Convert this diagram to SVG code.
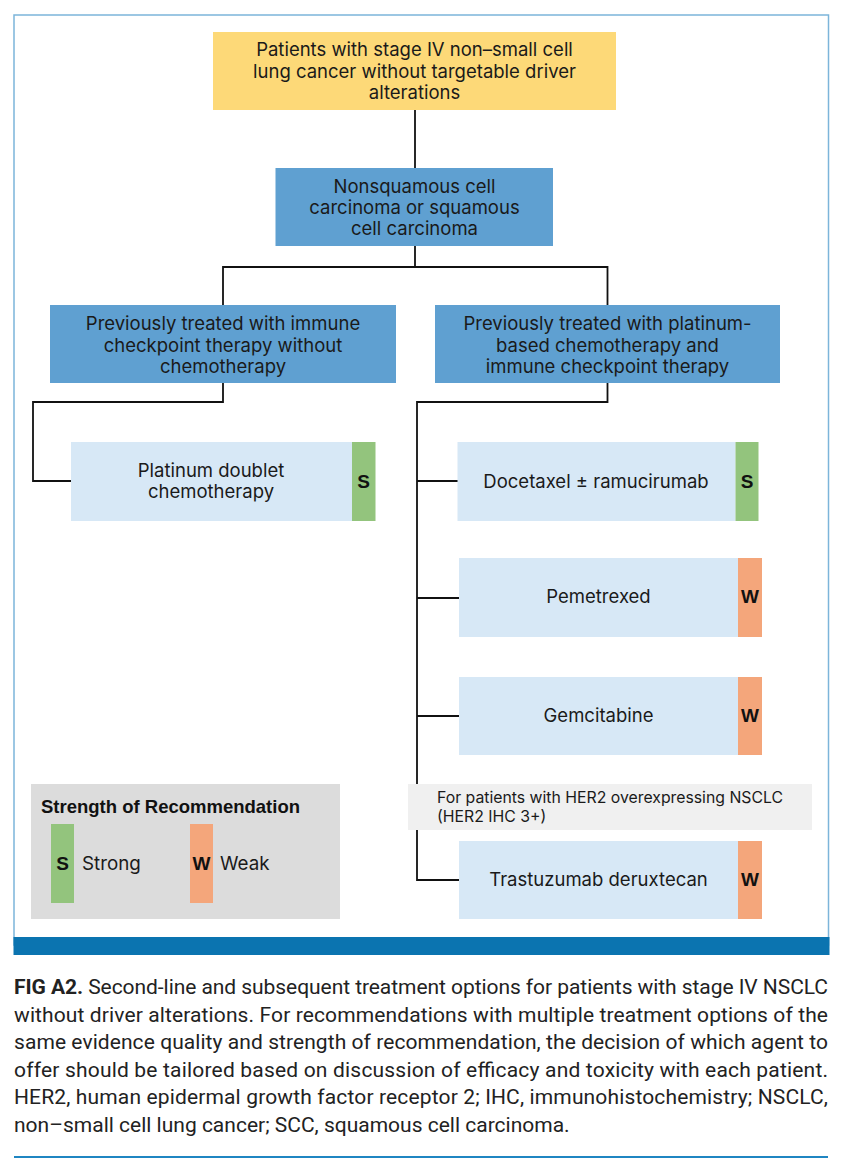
<svg xmlns="http://www.w3.org/2000/svg" width="852" height="1165" viewBox="0 0 852 1165">
<style>
.t{font-family:Inter,"Liberation Sans",Arial,sans-serif;font-size:18.5px;fill:#1a1a1a;text-anchor:middle}
.n{font-family:Inter,"Liberation Sans",Arial,sans-serif;font-size:15.8px;fill:#1a1a1a}
.b{font-family:"Liberation Sans",Arial,sans-serif;font-weight:bold;font-size:19px;fill:#111;text-anchor:middle}
.c{font-family:Roboto,"Liberation Sans",sans-serif;font-size:21px;fill:#222}
.yel{fill:#FDD978}
.blu{fill:#5FA0D1}
.lb{fill:#D7E8F6}
.grn{fill:#93C47D}
.org{fill:#F4A67B}
.conn{fill:none;stroke:#111;stroke-width:1.8}
</style>
<rect x="0" y="0" width="852" height="1165" fill="#fff"/>
<rect x="14" y="15" width="814.5" height="930" fill="#fff" stroke="#7CB5DA" stroke-width="1.5"/>
<rect x="13.5" y="937" width="816" height="18" fill="#0B74B0"/>

<g id="connectors">
<path class="conn" d="M415 110V168"/>
<path class="conn" d="M415 246V267M223 305V267H607.5V305"/>
<path class="conn" d="M223 383V402H33V481H71"/>
<path class="conn" d="M607.5 383V402H417V880H459"/>
<path class="conn" d="M417 481H458M417 598H459M417 716H459"/>
</g>

<g id="n1"><rect class="yel" x="213" y="32" width="403" height="78"/>
<text class="t" x="414.5" y="56">Patients with stage IV non–small cell</text>
<text class="t" x="414.5" y="77.5">lung cancer without targetable driver</text>
<text class="t" x="414.5" y="99">alterations</text></g>

<g id="n2"><rect class="blu" x="275.5" y="168" width="277.5" height="78"/>
<text class="t" x="414.5" y="193">Nonsquamous cell</text>
<text class="t" x="414.5" y="214">carcinoma or squamous</text>
<text class="t" x="414.5" y="235">cell carcinoma</text></g>

<g id="n3"><rect class="blu" x="50" y="305" width="346" height="78"/>
<text class="t" x="223" y="330">Previously treated with immune</text>
<text class="t" x="223" y="352">checkpoint therapy without</text>
<text class="t" x="223" y="373">chemotherapy</text></g>

<g id="n4"><rect class="blu" x="435" y="305" width="345" height="78"/>
<text class="t" x="607.5" y="330">Previously treated with platinum-</text>
<text class="t" x="607.5" y="352">based chemotherapy and</text>
<text class="t" x="607.5" y="373">immune checkpoint therapy</text></g>

<g id="n5"><rect class="lb" x="71" y="442" width="281" height="79"/>
<rect class="grn" x="352" y="442" width="23.5" height="79"/>
<text class="t" x="211" y="477">Platinum doublet</text>
<text class="t" x="211" y="498">chemotherapy</text>
<text class="b" x="363.5" y="488">S</text></g>

<g id="n6"><rect class="lb" x="457.5" y="442" width="278" height="79"/>
<rect class="grn" x="735.5" y="442" width="23" height="79"/>
<text class="t" x="596" y="488">Docetaxel ± ramucirumab</text>
<text class="b" x="747" y="488">S</text></g>

<g id="n7"><rect class="lb" x="459" y="558" width="279" height="79"/>
<rect class="org" x="738" y="558" width="24" height="79"/>
<text class="t" x="598.5" y="603">Pemetrexed</text>
<text class="b" x="750" y="603">W</text></g>

<g id="n8"><rect class="lb" x="459" y="677" width="279" height="78"/>
<rect class="org" x="738" y="677" width="24" height="78"/>
<text class="t" x="598.5" y="722">Gemcitabine</text>
<text class="b" x="750" y="722">W</text></g>

<g id="note"><rect x="408" y="784" width="404" height="46" fill="#F0F0F0"/>
<text class="n" x="437" y="803">For patients with HER2 overexpressing NSCLC</text>
<text class="n" x="437" y="821.5">(HER2 IHC 3+)</text></g>

<g id="n9"><rect class="lb" x="459" y="841" width="279" height="78"/>
<rect class="org" x="738" y="841" width="24" height="78"/>
<text class="t" x="598.5" y="886">Trastuzumab deruxtecan</text>
<text class="b" x="750" y="886">W</text></g>

<g id="legend"><rect x="31" y="784" width="309" height="135" fill="#DCDCDC"/>
<text x="41" y="813" font-family="Liberation Sans,Arial,sans-serif" font-weight="bold" font-size="18.5" fill="#111">Strength of Recommendation</text>
<rect class="grn" x="51" y="824" width="23" height="79"/>
<text class="b" x="62.5" y="870">S</text>
<text class="n" x="82" y="870" style="font-size:18.8px">Strong</text>
<rect class="org" x="190" y="824" width="23" height="79"/>
<text class="b" x="201.5" y="870">W</text>
<text class="n" x="220" y="870" style="font-size:18.8px">Weak</text></g>

<g id="caption">
<text class="c" x="14" y="994" textLength="814" lengthAdjust="spacing"><tspan font-weight="bold">FIG A2.</tspan>  Second-line and subsequent treatment options for patients with stage IV NSCLC</text>
<text class="c" x="14" y="1021.5" textLength="814" lengthAdjust="spacing">without driver alterations. For recommendations with multiple treatment options of the</text>
<text class="c" x="14" y="1049" textLength="814" lengthAdjust="spacing">same evidence quality and strength of recommendation, the decision of which agent to</text>
<text class="c" x="14" y="1076.5" textLength="814" lengthAdjust="spacing">offer should be tailored based on discussion of efficacy and toxicity with each patient.</text>
<text class="c" x="14" y="1104" textLength="814" lengthAdjust="spacing">HER2, human epidermal growth factor receptor 2; IHC, immunohistochemistry; NSCLC,</text>
<text class="c" x="14" y="1131.5">non–small cell lung cancer; SCC, squamous cell carcinoma.</text>
</g>
<line x1="14" y1="1157" x2="828" y2="1157" stroke="#1F86C2" stroke-width="2"/>
</svg>
